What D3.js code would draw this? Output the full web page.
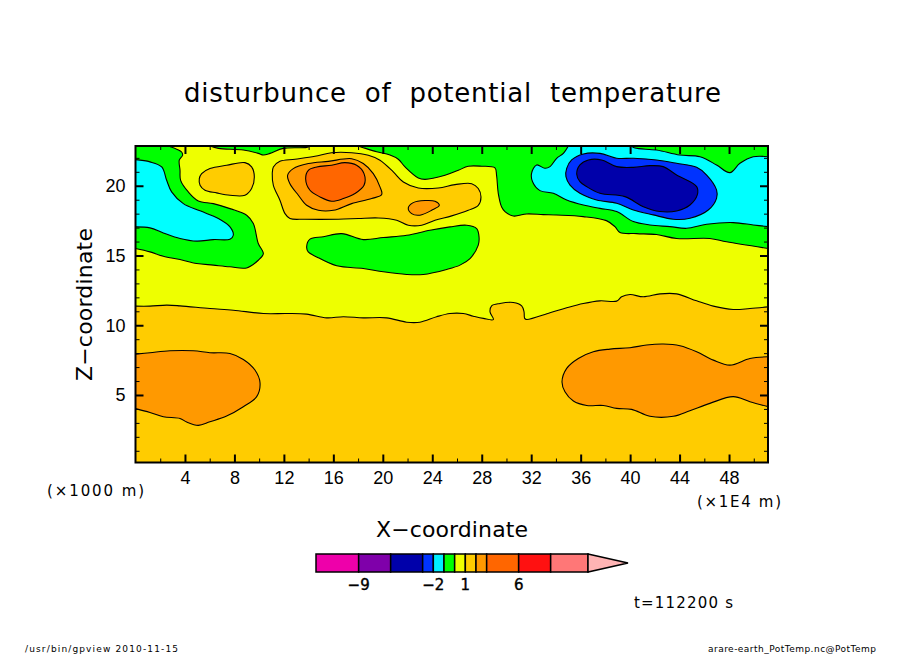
<!DOCTYPE html>
<html>
<head>
<meta charset="utf-8">
<style>
    html, body { margin: 0; padding: 0; background: #fff; }
    svg { display: block; }
    text { font-family: "DejaVu Sans", sans-serif; fill: #000; }
    .domain { display: none; }
</style>
</head>
<body>
<div class="canvas"></div>
<script src="https://cdn.jsdelivr.net/npm/d3@7"></script>
<script>
    // contour outlines, [x (x1E4 m), z (x1000 m)]
    const contourYellowBase = [[0,11.37],[1.17,11.37],[2.52,11.44],[3.6,11.39],[6.02,11.2],[7.91,11.08],[10.34,10.84],[12.22,10.84],[13.84,10.8],[15.46,10.53],[16.81,10.61],[18.42,10.53],[20.31,10.53],[21.93,10.22],[23,10.22],[24.35,10.61],[25.43,10.84],[26.51,10.84],[27.32,10.65],[28.13,10.49],[28.94,10.41],[28.67,10.96],[28.8,11.39],[29.47,11.56],[30.55,11.63],[31.23,11.39],[31.42,10.96],[31.47,10.49],[31.63,10.41],[33.52,10.89],[34.87,11.25],[36.21,11.56],[37.56,11.75],[38.91,11.73],[39.31,12.04],[39.99,12.2],[41.07,12.04],[42.42,12.25],[43.76,12.25],[45.38,11.75],[46.73,11.37],[48.34,11.13],[49.69,11.2],[51.17,11.32]];
    const contourOrangeLeft = [[0,7.93],[1.17,8.03],[2.79,8.17],[4.68,8.17],[6.02,8.03],[7.64,7.98],[8.72,7.55],[9.66,6.79],[10.07,5.88],[9.8,4.88],[8.72,4.16],[7.37,3.49],[6.02,3.08],[5.08,2.82],[4.14,3.06],[3.6,3.32],[2.25,3.44],[1.17,3.75],[0,4.02]];
    const contourOrangeRight = [[51.17,7.74],[49.69,7.62],[48.07,7.14],[46.73,7.5],[45.38,8.1],[44.03,8.53],[42.68,8.65],[41.33,8.58],[39.99,8.39],[38.37,8.29],[37.02,8.1],[35.81,7.62],[34.87,6.91],[34.49,5.95],[34.73,5.23],[35.41,4.57],[36.49,4.25],[37.83,4.25],[38.91,4.04],[40.12,3.97],[41.6,3.47],[43.49,3.47],[44.83,3.87],[46.45,4.4],[48.34,4.88],[49.69,4.52],[51.17,4.16]];
    const contourGoldSmall = [[5.16,20.51],[5.35,20.87],[6.02,21.23],[7.37,21.47],[8.85,21.66],[9.39,21.35],[9.61,20.63],[9.39,19.8],[8.85,19.32],[7.64,19.32],[6.56,19.49],[5.62,19.68],[5.22,20.04]];
    const contourGoldBig = [[11.06,20.87],[11.15,21.35],[11.68,21.75],[12.9,21.9],[14.51,22.11],[15.85,22.37],[17.48,22.37],[18.83,22.18],[19.77,21.83],[20.85,20.99],[21.66,20.27],[22.87,19.84],[24.49,19.84],[25.84,20.08],[27.19,20.15],[27.72,19.8],[27.94,19.2],[27.72,18.6],[26.91,18.24],[25.57,17.84],[24.22,17.53],[23.14,17.17],[22.06,17.17],[21.12,17.53],[19.63,17.69],[18.02,17.65],[16.4,17.6],[13.7,17.6],[12.49,17.65],[12.09,18],[11.68,18.96],[11.15,20.03]];
    const contourOrangeMid = [[12.3,20.75],[12.76,21.23],[13.98,21.59],[15.6,21.75],[17.48,21.94],[18.42,21.59],[19.23,20.87],[19.77,19.92],[19.91,19.37],[19.1,19.08],[17.48,18.72],[16,18.24],[14.79,18.24],[13.84,18.6],[13.17,19.32],[12.49,20.15]];
    const contourOrangeDeep = [[13.76,20.51],[13.98,21.11],[14.65,21.35],[15.86,21.47],[16.94,21.66],[17.88,21.47],[18.48,20.87],[18.48,20.03],[17.75,19.44],[16.81,19.08],[15.86,18.89],[14.92,19.2],[14.11,19.68]];
    const contourOrangeSmall = [[22.06,18.41],[22.46,18.79],[23.41,18.94],[24.22,18.89],[24.57,18.6],[23.95,18.24],[23,17.89],[22.33,18]];
    const contourGreenLeft = [[2.66,22.85],[3.33,22.62],[3.73,22.42],[3.81,22.19],[3.54,21.83],[3.6,21.11],[3.65,20.39],[4.27,19.56],[5.08,18.91],[6.29,18.72],[7.64,18.36],[8.99,17.89],[9.53,17.29],[9.93,15.86],[10.34,15.14],[9.93,14.66],[8.99,14.11],[7.64,14.19],[6.29,14.31],[4.95,14.43],[3.6,14.71],[2.25,14.95],[1.17,15.26],[0,15.5]];
    const contourGreenTop = [[6.02,22.85],[6.7,22.68],[8.72,22.56],[9.93,22.32],[10.34,22.2],[10.88,22.32],[11.95,22.68],[13.84,22.75],[14.11,22.85]];
    const contourGreenCenter = [[13.84,15.62],[14.11,16.17],[15.19,16.34],[16.67,16.57],[18.42,16.14],[20.04,16.29],[21.93,16.45],[23.81,16.81],[25.43,17.05],[26.78,17.17],[27.59,16.93],[27.78,16.34],[27.72,15.74],[27.05,14.78],[26.24,14.31],[25.16,14],[23.27,13.64],[21.93,13.64],[20.04,13.83],[18.42,14.07],[16.27,14.26],[14.65,14.9],[13.97,15.26]];
    const contourGreenRight = [[18,22.85],[18.42,22.73],[19.5,22.44],[20.58,22.2],[21.25,21.9],[21.8,21.35],[22.87,20.56],[23.41,20.46],[25.03,20.75],[26.11,21.11],[26.91,21.4],[28,21.4],[29.07,21.28],[29.2,20.75],[29.34,19.44],[29.61,18.48],[29.88,18.15],[30.55,17.83],[31.63,17.98],[32.97,17.93],[34.05,17.9],[36.2,17.79],[38.08,17.5],[38.77,17.07],[39.18,16.65],[40.53,16.57],[42.14,16.5],[43.76,16.22],[46.45,16.22],[47.8,15.98],[51.17,15.5]];
    const contourCyanLeft = [[0,21.87],[1.17,21.71],[2.12,21.35],[2.52,20.39],[2.92,19.56],[3.87,18.72],[5.22,18.2],[6.7,17.65],[7.64,17.05],[7.91,16.45],[7.64,16.17],[6.29,16.14],[4.95,16.03],[3.6,16.22],[2.25,16.62],[1.17,16.98],[0,17.05]];
    const contourCyanRight = [[35,22.85],[34.6,22.32],[34.06,21.97],[33.52,21.37],[33.11,21.25],[32.44,21.49],[32.03,20.89],[32.11,20.29],[32.71,19.65],[33.79,19.46],[34.87,18.98],[36.22,18.62],[37.56,18.38],[38.91,18.15],[40.26,17.43],[41.6,17.19],[43.22,17.07],[44.57,16.95],[46.19,17.24],[48.34,17.36],[49.96,17.19],[51.17,17.07]];
    const contourCyanRightTop = [[51.17,22.08],[49.96,22.08],[48.88,21.61],[48.07,20.94],[46.99,21.49],[45.65,22.08],[44,22.2],[42.14,22.56],[40.39,22.7],[40.1,22.85]];
    const contourBlue = [[34.81,20.65],[34.87,21.25],[35.27,21.85],[36.22,22.28],[37.56,22.32],[38.91,21.97],[40.26,21.97],[42.14,21.85],[43.76,21.61],[45.38,21.32],[46.19,20.77],[46.99,19.7],[46.99,19.1],[46.32,18.26],[44.84,17.67],[43.49,17.6],[41.87,17.91],[40.26,18.26],[38.91,18.74],[37.29,18.98],[35.94,19.46],[35.14,20.05]];
    const contourNavy = [[35.68,20.84],[35.94,21.49],[36.62,21.85],[37.7,21.85],[38.91,21.37],[40.26,21.32],[41.6,21.44],[42.68,21.37],[43.76,20.77],[45.38,19.94],[45.43,19.34],[44.84,18.62],[43.76,18.19],[42.41,18.15],[41.07,18.5],[39.58,19.22],[37.56,19.46],[36.48,19.94],[35.94,20.29]];

    const xMajorTicks = [4, 8, 12, 16, 20, 24, 28, 32, 36, 40, 44, 48];
    const xMinorTicks = [2, 6, 10, 14, 18, 22, 26, 30, 34, 38, 42, 46, 50];
    const zMajorTicks = [5, 10, 15, 20];
    const zMinorTicks = [1, 2, 3, 4, 6, 7, 8, 9, 11, 12, 13, 14, 16, 17, 18, 19, 21, 22];

    // colorbar: level boundaries and the colour of the cell above each one
    const barLevels = [-13, -9, -6, -3, -2, -1, 0, 1, 2, 3, 6, 9, 12.5];
    const barColors = ["#ee00aa", "#7f00aa", "#0000aa", "#0033ff", "#00eeff", "#00ff00", "#eeff00", "#ffcc00", "#ff9900", "#ff6600", "#ff1111", "#ff7777"];
    const barLabels = [-9, -2, 1, 6];

    const width = 904;
    const height = 654;
    const PLOT_LEFT = 135.5;
    const PLOT_RIGHT = 768;
    const PLOT_TOP = 146;
    const PLOT_BOTTOM = 462.5;

    const xScale = d3.scaleLinear().domain([0, 51.15]).range([PLOT_LEFT, PLOT_RIGHT]);
    const zScale = d3.scaleLinear().domain([0.16, 22.85]).range([PLOT_BOTTOM, PLOT_TOP]);
    const barScale = d3.scaleLinear().domain([-13, 12.5]).range([316, 588]);

    const svg = d3.select(".canvas").append("svg")
        .attr("width", width)
        .attr("height", height)

    svg.append("clipPath").attr("id", "plot-clip").append("rect")
        .attr("x", PLOT_LEFT).attr("y", PLOT_TOP)
        .attr("width", PLOT_RIGHT - PLOT_LEFT).attr("height", PLOT_BOTTOM - PLOT_TOP)

    const line = d3.line()
        .x(d => xScale(d[0]))
        .y(d => zScale(d[1]))
        .curve(d3.curveCatmullRom.alpha(0.5))

    const closedLine = d3.line()
        .x(d => xScale(d[0]))
        .y(d => zScale(d[1]))
        .curve(d3.curveCatmullRomClosed.alpha(0.5))

    // open trace, closed with straight runs along the plot edges
    function edgePath(points, corners) {
        return line(points) + corners.map(c => "L" + xScale(c[0]) + "," + zScale(c[1])).join("") + "Z";
    }

    const cyanRightPath = line(contourCyanRight) + "L" + line(contourCyanRightTop).slice(1) + "Z";

    const regions = [
        { d: edgePath(contourOrangeLeft, [[-1, 4.02], [-1, 7.93]]), fill: "#ff9900" },
        { d: edgePath(contourOrangeRight, [[52, 4.16], [52, 7.74]]), fill: "#ff9900" },
        { d: edgePath(contourYellowBase, [[52, 11.32], [52, 24], [-1, 24], [-1, 11.37]]), fill: "#eeff00" },
        { d: closedLine(contourGoldSmall), fill: "#ffcc00" },
        { d: closedLine(contourGoldBig), fill: "#ffcc00" },
        { d: closedLine(contourOrangeMid), fill: "#ff9900" },
        { d: closedLine(contourOrangeDeep), fill: "#ff6600" },
        { d: closedLine(contourOrangeSmall), fill: "#ff9900" },
        { d: edgePath(contourGreenLeft, [[-1, 15.5], [-1, 24], [2.66, 24]]), fill: "#00ff00" },
        { d: edgePath(contourGreenTop, [[14.11, 24], [6.02, 24]]), fill: "#00ff00" },
        { d: closedLine(contourGreenCenter), fill: "#00ff00" },
        { d: edgePath(contourGreenRight, [[52, 15.5], [52, 24], [18, 24]]), fill: "#00ff00" },
        { d: edgePath(contourCyanLeft, [[-1, 17.05], [-1, 21.87]]), fill: "#00ffff" },
        { d: cyanRightPath, fill: "#00ffff" },
        { d: closedLine(contourBlue), fill: "#0033ff" },
        { d: closedLine(contourNavy), fill: "#0000aa" }
    ];

    const plot = svg.append("g").attr("clip-path", "url(#plot-clip)")

    plot.append("rect")
        .attr("x", PLOT_LEFT).attr("y", PLOT_TOP)
        .attr("width", PLOT_RIGHT - PLOT_LEFT).attr("height", PLOT_BOTTOM - PLOT_TOP)
        .style("fill", "#ffcc00")

    plot.selectAll("path.region").data(regions).enter()
        .append("path")
        .attr("class", "region")
        .attr("d", d => d.d)
        .style("fill", d => d.fill)
        .style("stroke", "#000")
        .style("stroke-width", 1.1)
        .style("stroke-linejoin", "round")

    // frame
    svg.append("rect")
        .attr("x", PLOT_LEFT).attr("y", PLOT_TOP)
        .attr("width", PLOT_RIGHT - PLOT_LEFT).attr("height", PLOT_BOTTOM - PLOT_TOP)
        .style("fill", "none").style("stroke", "#000").style("stroke-width", 2)

    // axes, ticks point into the plot
    function addAxis(axis, tx, ty, tickWidth) {
        const g = svg.append("g").attr("transform", "translate(" + tx + "," + ty + ")").call(axis)
        g.selectAll(".tick line").style("stroke", "#000").style("stroke-width", tickWidth)
        g.selectAll("text").style("font-size", "18px").style("font-family", '"Liberation Sans"')
        return g;
    }

    addAxis(d3.axisBottom(xScale).tickValues(xMajorTicks).tickFormat(d3.format("d")).tickSize(-8).tickPadding(9), 0, PLOT_BOTTOM, 2)
    addAxis(d3.axisBottom(xScale).tickValues(xMinorTicks).tickFormat("").tickSize(-4), 0, PLOT_BOTTOM, 1)
    addAxis(d3.axisTop(xScale).tickValues(xMajorTicks).tickFormat("").tickSize(-8), 0, PLOT_TOP, 2)
    addAxis(d3.axisTop(xScale).tickValues(xMinorTicks).tickFormat("").tickSize(-4), 0, PLOT_TOP, 1)
    addAxis(d3.axisLeft(zScale).tickValues(zMajorTicks).tickFormat(d3.format("d")).tickSize(-8).tickPadding(10), PLOT_LEFT, 0, 2)
    addAxis(d3.axisLeft(zScale).tickValues(zMinorTicks).tickFormat("").tickSize(-4), PLOT_LEFT, 0, 1)
    addAxis(d3.axisRight(zScale).tickValues(zMajorTicks).tickFormat("").tickSize(-8), PLOT_RIGHT, 0, 2)
    addAxis(d3.axisRight(zScale).tickValues(zMinorTicks).tickFormat("").tickSize(-4), PLOT_RIGHT, 0, 1)

    // colorbar
    const BAR_TOP = 554;
    const BAR_HEIGHT = 18;

    const colorbar = svg.append("g")

    colorbar.selectAll("rect").data(barColors).enter()
        .append("rect")
        .attr("x", (d, i) => barScale(barLevels[i]))
        .attr("y", BAR_TOP)
        .attr("width", (d, i) => barScale(barLevels[i + 1]) - barScale(barLevels[i]))
        .attr("height", BAR_HEIGHT)
        .style("fill", d => d)
        .style("stroke", "#000")
        .style("stroke-width", 1.5)

    colorbar.append("path")
        .attr("d", d3.line()([[588, BAR_TOP], [628, BAR_TOP + 9], [588, BAR_TOP + BAR_HEIGHT]]) + "Z")
        .style("fill", "#ffb4b4")
        .style("stroke", "#000")
        .style("stroke-width", 1.5)

    colorbar.selectAll("text").data(barLabels).enter()
        .append("text")
        .attr("x", d => barScale(d))
        .attr("y", 590)
        .attr("text-anchor", "middle")
        .style("font-size", "15px")
        .style("stroke", "#000")
        .style("stroke-width", 0.4)
        .text(d => d < 0 ? "\u2212" + (-d) : d)

    // free text
    function label(text, x, y, size, length) {
        return svg.append("text")
            .attr("x", x)
            .attr("y", y)
            .attr("textLength", length)
            .attr("lengthAdjust", "spacing")
            .style("font-size", size + "px")
            .text(text)
    }

    label("disturbunce of potential temperature", 184, 102, 26, 537)
        .style("word-spacing", "9px")
    label("X\u2212coordinate", 376, 537, 22, 152)
    label("(\u00d71000 m)", 47, 496, 15, 97)
    label("(\u00d71E4 m)", 697, 507, 15, 84)
    label("t=112200 s", 634, 608, 15, 99)
    label("/usr/bin/gpview  2010-11-15", 25, 652, 9, 153)
    label("arare-earth_PotTemp.nc@PotTemp", 708, 652, 9, 168)
    label("Z\u2212coordinate", 0, 0, 22, 153)
        .attr("transform", "translate(92,381) rotate(-90)")
</script>
</body>
</html>
